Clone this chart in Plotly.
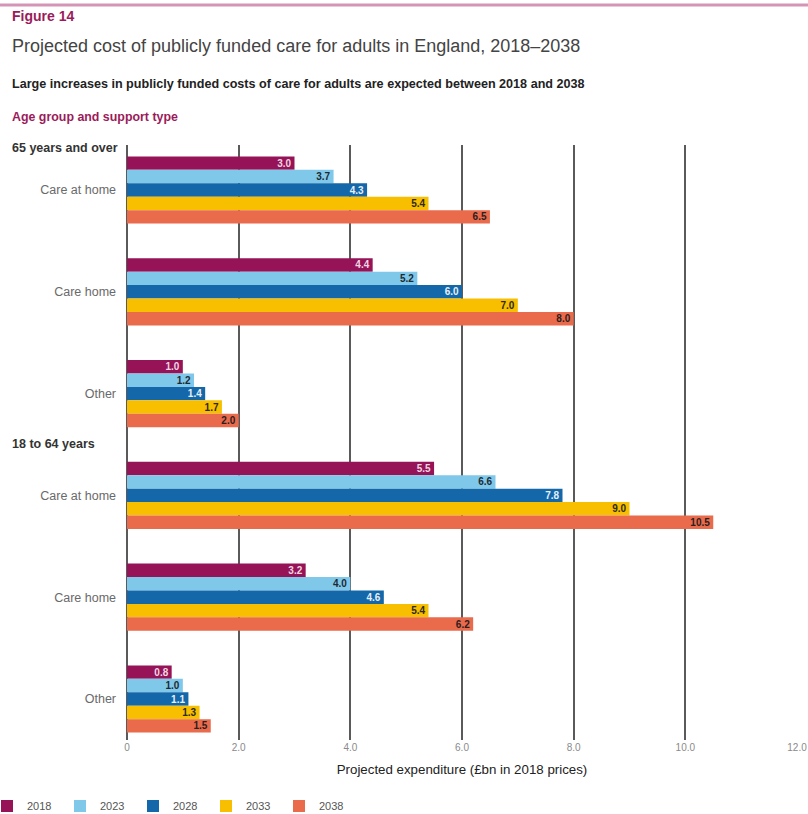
import plotly.graph_objects as go

# ---- data ----
groups = ["Care at home", "Care home", "Other", "Care at home", "Care home", "Other"]
years = ["2018", "2023", "2028", "2033", "2038"]
v2018 = [3.0, 4.4, 1.0, 5.5, 3.2, 0.8]
v2023 = [3.7, 5.2, 1.2, 6.6, 4.0, 1.0]
v2028 = [4.3, 6.0, 1.4, 7.8, 4.6, 1.1]
v2033 = [5.4, 7.0, 1.7, 9.0, 5.4, 1.3]
v2038 = [6.5, 8.0, 2.0, 10.5, 6.2, 1.5]
series = [v2018, v2023, v2028, v2033, v2038]
colors = ["#951356", "#7FC8E9", "#1467A8", "#F8BE00", "#EA6A4C"]
text_colors = ["#F1D6E4", "#1E2A33", "#E6F0FA", "#2B2B1A", "#2A2020"]
xticks = [0, 2, 4, 6, 8, 10, 12]
xticktext = ["0", "2.0", "4.0", "6.0", "8.0", "10.0", "12.0"]

W, H = 808, 814
L, R, T, B = 127, 797, 145, 740
pos = list(range(len(groups)))


def px_x(px):
    return (px - L) / (R - L)


def px_y(py):
    return (B - py) / (B - T)


fig = go.Figure()
for yr, vals, c, tc in zip(years, series, colors, text_colors):
    fig.add_trace(go.Bar(
        name=yr, y=pos, x=vals, orientation="h",
        marker=dict(color=c, line=dict(width=0)),
        text=[f"<b>{v:.1f}</b>" for v in vals],
        textposition="inside", insidetextanchor="end",
        textfont=dict(color=tc, size=10, family="Liberation Sans"),
        cliponaxis=False,
    ))

fig.update_layout(
    width=W, height=H,
    margin=dict(l=L, r=W - R, t=T, b=H - B, autoexpand=False),
    paper_bgcolor="white", plot_bgcolor="white",
    barmode="group", bargap=0.34, bargroupgap=0,
    font=dict(family="Liberation Sans", color="#333"),
    uniformtext=dict(mode="show", minsize=10),
    legend=dict(
        orientation="h", xref="paper", yref="paper",
        x=px_x(-13), y=px_y(806), xanchor="left", yanchor="middle",
        entrywidth=28, entrywidthmode="pixels",
        font=dict(size=11, color="#555"), itemwidth=30,
        traceorder="normal",
    ),
    xaxis=dict(
        range=[0, 12], tickvals=xticks, ticktext=xticktext, automargin=False,
        showgrid=True, gridcolor="#5a5a5a", gridwidth=2,
        zeroline=True, zerolinecolor="#5a5a5a", zerolinewidth=2,
        showline=False, ticks="", tickfont=dict(size=10, color="#8a8a8a"),
        title=dict(text="Projected expenditure (£bn in 2018 prices)",
                   font=dict(size=13.3, color="#222"), standoff=12),
    ),
    yaxis=dict(
        range=[5 + (B - 699) / 101.8, -(190 - T) / 101.8], automargin=False,
        tickvals=pos, ticktext=groups, showgrid=False, zeroline=False,
        ticks="", tickfont=dict(size=12.5, color="#6a6a6a"), ticklabelstandoff=10,
    ),
)

anns = [
    dict(text="<b>Figure 14</b>", x=10, y=16, size=14, color="#9B1B5A"),
    dict(text="Projected cost of publicly funded care for adults in England, 2018–2038",
         x=10, y=46, size=18, color="#444"),
    dict(text="<b>Large increases in publicly funded costs of care for adults are expected between 2018 and 2038</b>",
         x=10, y=84, size=12.6, color="#222"),
    dict(text="<b>Age group and support type</b>", x=10, y=117, size=12.4, color="#9B1B5A"),
    dict(text="<b>65 years and over</b>", x=10, y=148, size=12.5, color="#333"),
    dict(text="<b>18 to 64 years</b>", x=10, y=444, size=12.5, color="#333"),
]
for a in anns:
    fig.add_annotation(
        text=a["text"], xref="paper", yref="paper",
        x=px_x(a["x"]), y=px_y(a["y"]), xanchor="left", yanchor="middle",
        showarrow=False, font=dict(size=a["size"], color=a["color"]),
    )

fig.add_shape(type="line", xref="paper", yref="paper",
              x0=px_x(0), x1=px_x(W), y0=px_y(5), y1=px_y(5),
              line=dict(color="#D394B6", width=3))

fig.write_html("out.html")
